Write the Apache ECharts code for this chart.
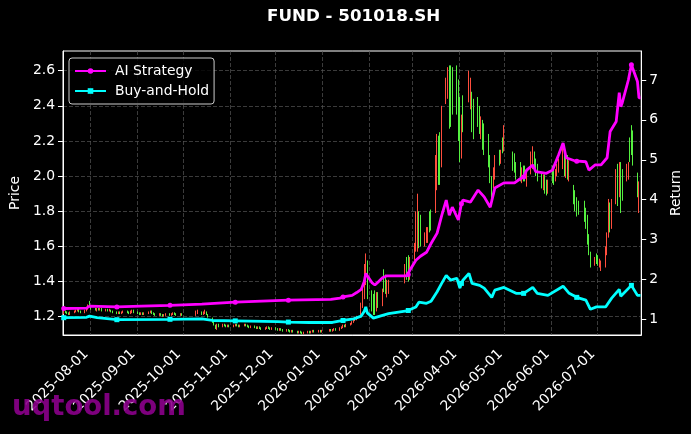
<!DOCTYPE html>
<html>
<head>
<meta charset="utf-8">
<script src="https://cdn.jsdelivr.net/npm/echarts@6/dist/echarts.min.js"></script>
<style>
  html, body { margin: 0; padding: 0; background: #000; }
  #main { width: 691px; height: 434px; }
</style>
</head>
<body>
<div id="main"></div>
<script>
// calendar days shown on the x axis (category labels)
const days = [];
for (let t = Date.UTC(2025, 6, 14); t <= Date.UTC(2026, 6, 29); t += 86400000) {
    days.push(new Date(t).toISOString().slice(0, 10));
}

// [date, open, close, low, high]
const candles = [
    ['2025-07-14',1.22,1.23,1.215,1.235],['2025-07-15',1.23,1.225,1.22,1.235],['2025-07-16',1.225,1.22,1.215,1.23],
    ['2025-07-17',1.22,1.215,1.21,1.225],['2025-07-18',1.215,1.225,1.21,1.23],['2025-07-21',1.225,1.23,1.22,1.235],
    ['2025-07-22',1.23,1.235,1.225,1.24],['2025-07-23',1.235,1.24,1.23,1.245],['2025-07-24',1.24,1.23,1.225,1.245],
    ['2025-07-25',1.23,1.225,1.22,1.235],['2025-07-28',1.225,1.235,1.22,1.24],['2025-07-29',1.235,1.24,1.23,1.25],
    ['2025-07-30',1.245,1.26,1.24,1.27],['2025-07-31',1.28,1.265,1.26,1.29],['2025-08-01',1.26,1.245,1.24,1.265],
    ['2025-08-04',1.245,1.24,1.235,1.25],['2025-08-05',1.235,1.245,1.23,1.25],['2025-08-06',1.245,1.24,1.235,1.25],
    ['2025-08-07',1.24,1.245,1.235,1.25],['2025-08-08',1.245,1.235,1.23,1.25],['2025-08-11',1.235,1.24,1.23,1.245],
    ['2025-08-12',1.24,1.235,1.23,1.245],['2025-08-13',1.235,1.24,1.23,1.245],['2025-08-14',1.24,1.23,1.225,1.24],
    ['2025-08-15',1.23,1.225,1.22,1.235],['2025-08-18',1.225,1.22,1.215,1.23],['2025-08-19',1.22,1.225,1.215,1.23],
    ['2025-08-20',1.225,1.22,1.215,1.23],['2025-08-21',1.22,1.225,1.215,1.23],['2025-08-22',1.225,1.23,1.22,1.235],
    ['2025-08-25',1.23,1.225,1.22,1.235],['2025-08-26',1.225,1.22,1.215,1.23],['2025-08-27',1.22,1.225,1.215,1.235],
    ['2025-08-28',1.225,1.23,1.22,1.24],['2025-08-29',1.235,1.225,1.22,1.24],['2025-09-01',1.225,1.22,1.215,1.23],
    ['2025-09-02',1.22,1.215,1.21,1.225],['2025-09-03',1.215,1.22,1.21,1.225],['2025-09-04',1.22,1.215,1.21,1.225],
    ['2025-09-05',1.215,1.22,1.21,1.225],['2025-09-08',1.22,1.225,1.215,1.23],['2025-09-09',1.225,1.23,1.22,1.235],
    ['2025-09-10',1.23,1.22,1.215,1.235],['2025-09-11',1.22,1.215,1.21,1.225],['2025-09-12',1.215,1.21,1.205,1.22],
    ['2025-09-15',1.21,1.215,1.205,1.22],['2025-09-16',1.215,1.21,1.205,1.22],['2025-09-17',1.21,1.205,1.2,1.215],
    ['2025-09-18',1.205,1.21,1.2,1.215],['2025-09-19',1.21,1.215,1.205,1.22],['2025-09-22',1.215,1.21,1.205,1.22],
    ['2025-09-23',1.21,1.215,1.205,1.22],['2025-09-24',1.215,1.22,1.21,1.225],['2025-09-25',1.22,1.215,1.21,1.225],
    ['2025-09-26',1.215,1.21,1.205,1.22],['2025-09-29',1.21,1.215,1.205,1.22],['2025-09-30',1.215,1.21,1.205,1.22],
    ['2025-10-09',1.21,1.225,1.205,1.235],['2025-10-10',1.22,1.235,1.215,1.24],['2025-10-13',1.225,1.215,1.21,1.23],
    ['2025-10-14',1.215,1.225,1.21,1.23],['2025-10-15',1.22,1.23,1.215,1.24],['2025-10-16',1.225,1.215,1.21,1.23],
    ['2025-10-17',1.21,1.2,1.195,1.215],['2025-10-20',1.19,1.17,1.165,1.195],['2025-10-21',1.17,1.155,1.15,1.175],
    ['2025-10-22',1.15,1.14,1.13,1.155],['2025-10-23',1.135,1.15,1.125,1.16],['2025-10-24',1.15,1.145,1.14,1.16],
    ['2025-10-27',1.145,1.155,1.14,1.16],['2025-10-28',1.155,1.15,1.145,1.16],['2025-10-29',1.15,1.145,1.14,1.155],
    ['2025-10-30',1.145,1.15,1.14,1.155],['2025-10-31',1.15,1.145,1.14,1.155],['2025-11-03',1.145,1.15,1.14,1.155],
    ['2025-11-04',1.15,1.155,1.145,1.16],['2025-11-05',1.155,1.15,1.145,1.16],['2025-11-06',1.15,1.145,1.14,1.155],
    ['2025-11-07',1.145,1.15,1.14,1.155],['2025-11-10',1.15,1.155,1.145,1.16],['2025-11-11',1.155,1.15,1.145,1.16],
    ['2025-11-12',1.15,1.145,1.14,1.155],['2025-11-13',1.145,1.14,1.135,1.15],['2025-11-14',1.14,1.145,1.135,1.15],
    ['2025-11-17',1.145,1.14,1.135,1.15],['2025-11-18',1.14,1.135,1.13,1.145],['2025-11-19',1.135,1.14,1.13,1.145],
    ['2025-11-20',1.14,1.135,1.13,1.145],['2025-11-21',1.135,1.13,1.125,1.14],['2025-11-24',1.13,1.135,1.125,1.14],
    ['2025-11-25',1.135,1.14,1.13,1.145],['2025-11-26',1.14,1.135,1.13,1.145],['2025-11-27',1.135,1.13,1.125,1.14],
    ['2025-11-28',1.13,1.135,1.125,1.14],['2025-12-01',1.135,1.13,1.125,1.14],['2025-12-02',1.13,1.125,1.12,1.135],
    ['2025-12-03',1.125,1.13,1.12,1.135],['2025-12-04',1.13,1.125,1.12,1.135],['2025-12-05',1.125,1.12,1.115,1.13],
    ['2025-12-08',1.12,1.125,1.115,1.13],['2025-12-09',1.125,1.12,1.115,1.13],['2025-12-10',1.12,1.115,1.11,1.125],
    ['2025-12-11',1.115,1.12,1.11,1.125],['2025-12-12',1.12,1.115,1.11,1.125],['2025-12-15',1.115,1.11,1.105,1.12],
    ['2025-12-16',1.11,1.115,1.105,1.12],['2025-12-17',1.115,1.11,1.105,1.12],['2025-12-18',1.11,1.105,1.1,1.115],
    ['2025-12-19',1.105,1.11,1.1,1.115],['2025-12-22',1.11,1.115,1.105,1.12],['2025-12-23',1.115,1.11,1.105,1.12],
    ['2025-12-24',1.11,1.115,1.105,1.12],['2025-12-25',1.115,1.12,1.11,1.125],['2025-12-26',1.12,1.115,1.11,1.125],
    ['2025-12-29',1.115,1.12,1.11,1.125],['2025-12-30',1.12,1.115,1.11,1.125],['2025-12-31',1.115,1.12,1.11,1.125],
    ['2026-01-05',1.12,1.125,1.115,1.13],['2026-01-06',1.125,1.12,1.115,1.13],['2026-01-07',1.12,1.125,1.115,1.13],
    ['2026-01-08',1.125,1.13,1.12,1.135],['2026-01-09',1.13,1.125,1.12,1.135],['2026-01-12',1.125,1.135,1.12,1.14],
    ['2026-01-13',1.135,1.14,1.13,1.145],['2026-01-14',1.14,1.15,1.135,1.155],['2026-01-15',1.15,1.145,1.14,1.155],
    ['2026-01-16',1.145,1.155,1.14,1.16],['2026-01-19',1.155,1.16,1.15,1.165],['2026-01-20',1.16,1.17,1.155,1.175],
    ['2026-01-21',1.17,1.18,1.165,1.185],['2026-01-22',1.18,1.185,1.175,1.19],['2026-01-23',1.185,1.2,1.18,1.205],
    ['2026-01-26',1.21,1.27,1.20,1.28],['2026-01-27',1.27,1.33,1.25,1.38],['2026-01-28',1.32,1.45,1.30,1.50],
    ['2026-01-29',1.42,1.54,1.38,1.56],['2026-01-30',1.50,1.36,1.30,1.52],['2026-02-02',1.33,1.27,1.23,1.35],
    ['2026-02-03',1.30,1.24,1.21,1.33],['2026-02-04',1.34,1.23,1.21,1.35],['2026-02-05',1.24,1.30,1.23,1.34],
    ['2026-02-06',1.33,1.27,1.25,1.34],['2026-02-09',1.27,1.34,1.26,1.36],['2026-02-10',1.45,1.36,1.34,1.47],
    ['2026-02-11',1.42,1.35,1.33,1.44],['2026-02-12',1.32,1.38,1.31,1.41],['2026-02-13',1.34,1.40,1.33,1.41],
    ['2026-02-24',1.40,1.49,1.39,1.50],['2026-02-25',1.50,1.43,1.41,1.54],['2026-02-26',1.52,1.42,1.40,1.55],
    ['2026-02-27',1.42,1.52,1.41,1.54],['2026-03-02',1.53,1.58,1.52,1.62],['2026-03-03',1.58,1.75,1.57,1.80],
    ['2026-03-04',1.70,1.86,1.57,1.90],['2026-03-05',1.78,1.62,1.59,1.80],['2026-03-06',1.72,1.64,1.60,1.78],
    ['2026-03-09',1.62,1.66,1.60,1.68],['2026-03-10',1.63,1.70,1.62,1.71],['2026-03-11',1.66,1.69,1.62,1.71],
    ['2026-03-12',1.78,1.70,1.68,1.80],['2026-03-13',1.80,1.72,1.69,1.81],['2026-03-16',1.80,2.00,1.79,2.12],
    ['2026-03-17',1.95,2.15,1.92,2.24],['2026-03-18',2.20,2.05,1.95,2.23],['2026-03-19',2.20,1.98,1.95,2.25],
    ['2026-03-20',2.06,2.35,2.05,2.40],['2026-03-23',2.42,2.55,2.41,2.56],['2026-03-24',2.45,2.60,2.44,2.62],
    ['2026-03-25',2.62,2.30,2.27,2.63],['2026-03-26',2.60,2.35,2.28,2.63],['2026-03-27',2.55,2.40,2.35,2.62],
    ['2026-03-30',2.62,2.38,2.35,2.63],['2026-03-31',2.50,2.25,2.20,2.55],['2026-04-01',2.44,2.12,2.08,2.45],
    ['2026-04-02',2.12,2.30,2.10,2.35],['2026-04-03',2.44,2.28,2.25,2.46],['2026-04-07',2.44,2.58,2.42,2.60],
    ['2026-04-08',2.40,2.52,2.38,2.56],['2026-04-09',2.46,2.30,2.25,2.48],['2026-04-10',2.42,2.24,2.21,2.44],
    ['2026-04-13',2.42,2.30,2.28,2.45],['2026-04-14',2.36,2.27,2.24,2.40],['2026-04-15',2.22,2.32,2.21,2.34],
    ['2026-04-16',2.30,2.18,2.15,2.32],['2026-04-17',2.28,2.14,2.12,2.30],['2026-04-20',2.20,2.07,2.05,2.24],
    ['2026-04-21',2.10,1.98,1.96,2.12],['2026-04-22',1.99,1.90,1.86,2.00],['2026-04-23',1.94,2.03,1.93,2.05],
    ['2026-04-24',2.00,2.10,1.98,2.12],['2026-04-27',2.14,2.08,2.06,2.15],['2026-04-28',2.08,2.13,2.07,2.15],
    ['2026-04-29',2.20,2.15,2.13,2.22],['2026-04-30',2.15,2.25,2.14,2.29],['2026-05-06',2.13,2.05,2.03,2.14],
    ['2026-05-07',2.12,2.04,2.02,2.13],['2026-05-08',2.06,2.00,1.98,2.08],['2026-05-11',2.06,2.00,1.97,2.08],
    ['2026-05-12',1.98,2.03,1.96,2.05],['2026-05-13',2.05,2.00,1.97,2.06],['2026-05-14',2.04,1.99,1.97,2.06],
    ['2026-05-15',1.96,2.01,1.94,2.03],['2026-05-18',2.02,2.10,2.01,2.14],['2026-05-19',2.06,2.15,2.04,2.17],
    ['2026-05-20',2.12,2.05,2.03,2.14],['2026-05-21',2.08,2.02,2.00,2.10],['2026-05-22',2.05,1.99,1.97,2.07],
    ['2026-05-25',2.00,1.95,1.93,2.02],['2026-05-26',1.94,1.99,1.92,2.01],['2026-05-27',2.00,1.93,1.90,2.01],
    ['2026-05-28',1.96,1.91,1.89,1.98],['2026-05-29',1.91,1.96,1.90,1.98],['2026-06-01',2.04,1.98,1.96,2.06],
    ['2026-06-02',2.03,1.97,1.95,2.05],['2026-06-03',1.98,2.02,1.97,2.04],['2026-06-04',2.02,2.05,2.00,2.07],
    ['2026-06-05',2.04,2.08,2.02,2.10],['2026-06-08',2.06,2.13,2.04,2.16],['2026-06-09',2.14,2.04,2.00,2.16],
    ['2026-06-10',2.02,2.09,1.99,2.12],['2026-06-11',2.10,2.00,1.98,2.12],['2026-06-12',1.98,2.06,1.97,2.09],
    ['2026-06-15',1.94,1.86,1.84,1.95],['2026-06-16',1.90,1.82,1.80,1.92],['2026-06-17',1.86,1.79,1.77,1.88],
    ['2026-06-18',1.84,1.80,1.78,1.86],['2026-06-22',1.84,1.76,1.74,1.86],['2026-06-23',1.80,1.72,1.70,1.82],
    ['2026-06-24',1.76,1.64,1.61,1.78],['2026-06-25',1.66,1.57,1.55,1.67],['2026-06-26',1.56,1.50,1.48,1.57],
    ['2026-06-29',1.50,1.53,1.49,1.54],['2026-06-30',1.55,1.51,1.50,1.56],['2026-07-01',1.54,1.50,1.49,1.55],
    ['2026-07-02',1.49,1.52,1.48,1.53],['2026-07-03',1.47,1.50,1.46,1.52],['2026-07-06',1.49,1.57,1.48,1.60],
    ['2026-07-07',1.56,1.66,1.55,1.68],['2026-07-08',1.66,1.83,1.65,1.87],['2026-07-09',1.84,1.72,1.68,1.85],
    ['2026-07-10',1.72,1.84,1.70,1.87],['2026-07-13',1.86,2.00,1.84,2.04],['2026-07-14',2.05,1.92,1.83,2.07],
    ['2026-07-15',1.90,2.06,1.88,2.08],['2026-07-16',2.07,1.86,1.79,2.08],['2026-07-17',2.02,1.92,1.86,2.04],
    ['2026-07-20',1.98,2.05,1.97,2.07],['2026-07-21',2.00,2.06,1.98,2.08],['2026-07-22',2.20,2.10,2.08,2.22],
    ['2026-07-23',2.27,2.16,2.12,2.29],['2026-07-24',2.24,2.10,2.06,2.26],['2026-07-27',2.00,1.93,1.88,2.02],
    ['2026-07-28',1.84,1.95,1.79,1.97]
];

// cumulative return curves [date, value]
const aiReturn = [
    ['2025-07-14',1.27],['2025-07-29',1.28],['2025-07-31',1.33],['2025-08-18',1.31],['2025-09-03',1.33],
    ['2025-09-22',1.35],['2025-10-13',1.38],['2025-11-04',1.43],['2025-12-09',1.48],['2026-01-06',1.50],
    ['2026-01-12',1.53],['2026-01-14',1.56],['2026-01-20',1.60],['2026-01-23',1.67],['2026-01-26',1.75],
    ['2026-01-28',1.95],['2026-01-29',2.15],['2026-02-02',1.92],['2026-02-04',1.86],['2026-02-06',1.93],
    ['2026-02-09',2.04],['2026-02-12',2.09],['2026-02-25',2.09],['2026-02-26',2.12],['2026-02-27',2.23],
    ['2026-03-03',2.48],['2026-03-06',2.58],['2026-03-10',2.68],['2026-03-13',2.9],['2026-03-17',3.16],
    ['2026-03-20',3.6],['2026-03-23',3.99],['2026-03-25',3.61],['2026-03-27',3.81],['2026-03-31',3.49],
    ['2026-04-02',3.9],['2026-04-03',3.99],['2026-04-08',3.94],['2026-04-13',4.24],['2026-04-17',4.07],
    ['2026-04-21',3.81],['2026-04-24',4.29],['2026-04-30',4.42],['2026-05-07',4.42],['2026-05-11',4.53],
    ['2026-05-13',4.57],['2026-05-15',4.74],['2026-05-19',4.87],['2026-05-21',4.70],['2026-05-28',4.66],
    ['2026-06-01',4.74],['2026-06-05',5.12],['2026-06-08',5.42],['2026-06-10',5.05],['2026-06-16',4.97],
    ['2026-06-17',4.96],['2026-06-23',4.95],['2026-06-25',4.74],['2026-06-29',4.87],['2026-07-03',4.87],
    ['2026-07-07',5.05],['2026-07-09',5.71],['2026-07-13',5.96],['2026-07-15',6.68],['2026-07-16',6.33],
    ['2026-07-17',6.43],['2026-07-21',7.0],['2026-07-23',7.38],['2026-07-27',6.96],['2026-07-28',6.55],
    ['2026-07-29',6.55]
];
const bhReturn = [
    ['2025-07-14',1.04],['2025-07-29',1.05],['2025-07-31',1.08],['2025-08-05',1.04],['2025-08-18',0.99],
    ['2025-09-22',1.00],['2025-10-13',1.01],['2025-10-20',0.97],['2025-11-04',0.96],['2025-12-02',0.94],
    ['2025-12-09',0.93],['2025-12-23',0.92],['2026-01-07',0.92],['2026-01-14',0.97],['2026-01-21',1.01],
    ['2026-01-26',1.08],['2026-01-28',1.20],['2026-01-29',1.31],['2026-01-30',1.16],['2026-02-03',1.03],
    ['2026-02-09',1.10],['2026-02-13',1.14],['2026-02-25',1.21],['2026-02-26',1.22],['2026-03-03',1.31],
    ['2026-03-05',1.43],['2026-03-10',1.40],['2026-03-13',1.45],['2026-03-17',1.69],['2026-03-20',1.90],
    ['2026-03-23',2.10],['2026-03-26',1.98],['2026-03-30',2.03],['2026-04-01',1.78],['2026-04-02',1.90],
    ['2026-04-03',1.98],['2026-04-07',2.15],['2026-04-09',1.90],['2026-04-14',1.85],['2026-04-17',1.78],
    ['2026-04-22',1.55],['2026-04-24',1.73],['2026-04-30',1.80],['2026-05-08',1.65],['2026-05-13',1.65],
    ['2026-05-19',1.80],['2026-05-22',1.65],['2026-05-29',1.60],['2026-06-08',1.83],['2026-06-12',1.65],
    ['2026-06-17',1.55],['2026-06-23',1.48],['2026-06-26',1.25],['2026-06-30',1.31],['2026-07-06',1.31],
    ['2026-07-10',1.53],['2026-07-15',1.75],['2026-07-16',1.58],['2026-07-23',1.85],['2026-07-27',1.60],
    ['2026-07-29',1.60]
];
// dates where the line markers are drawn
const markerDates = ['2025-07-14','2025-08-18','2025-09-22','2025-11-04','2025-12-09','2026-01-14',
    '2026-02-26','2026-04-02','2026-05-13','2026-06-17','2026-07-23'];

const priceTicks = [1.2, 1.4, 1.6, 1.8, 2.0, 2.2, 2.4, 2.6];
const returnTicks = [1, 2, 3, 4, 5, 6, 7];

const FONT = 'DejaVu Sans';
const isMonthStart = (i, v) => v.slice(8) === '01';
const markSize = (v, p) => markerDates.includes(Array.isArray(v) ? v[0] : p.name) ? 5 : 0;

const myChart = echarts.init(document.getElementById('main'));

option = {
    backgroundColor: '#000',
    animation: false,
    title: {
        text: 'FUND - 501018.SH',
        left: 267,
        top: 8,
        padding: 0,
        textStyle: { color: '#fff', fontFamily: FONT, fontWeight: 'bold', fontSize: 16.7 }
    },
    legend: {
        data: ['AI Strategy', 'Buy-and-Hold'],
        orient: 'vertical',
        left: 69,
        top: 58,
        padding: [5, 5, 5, 5],
        itemWidth: 31,
        itemHeight: 7,
        itemGap: 4,
        backgroundColor: 'rgba(0,0,0,0.8)',
        borderColor: '#cccccc',
        borderWidth: 1,
        borderRadius: 3,
        textStyle: { color: '#fff', fontFamily: FONT, fontSize: 13.9, lineHeight: 16, padding: [0, 0, 0, 4] }
    },
    grid: {
        left: 62, right: 48, top: 51, bottom: 99,
        show: true, borderColor: '#fff', borderWidth: 1, backgroundColor: 'transparent'
    },
    xAxis: {
        type: 'category',
        data: days,
        boundaryGap: true,
        axisLine: { lineStyle: { color: '#fff', width: 1 } },
        axisTick: { interval: isMonthStart, alignWithLabel: true, length: 5, lineStyle: { color: '#fff' } },
        axisLabel: {
            interval: isMonthStart, rotate: 45, margin: 12, padding: [0, 7, 0, 0],
            color: '#fff', fontFamily: FONT, fontSize: 13.9
        },
        splitLine: { show: true, interval: isMonthStart, lineStyle: { color: '#555', type: [4, 2], width: 0.7 } }
    },
    yAxis: [
        {
            type: 'value',
            name: 'Price',
            nameLocation: 'middle',
            nameGap: 38,
            nameTextStyle: { color: '#fff', fontFamily: FONT, fontSize: 13.9 },
            min: 1.096,
            max: 2.712,
            axisLine: { show: true, lineStyle: { color: '#fff', width: 1 } },
            axisTick: { show: true, length: 5, customValues: priceTicks, lineStyle: { color: '#fff' } },
            axisLabel: {
                customValues: priceTicks, margin: 8, color: '#fff', fontFamily: FONT, fontSize: 13.9,
                formatter: v => v.toFixed(1)
            },
            splitLine: { show: true, lineStyle: { color: '#555', type: [4, 2], width: 0.7 } }
        },
        {
            type: 'value',
            name: 'Return',
            nameLocation: 'middle',
            nameGap: 25,
            nameTextStyle: { color: '#fff', fontFamily: FONT, fontSize: 13.9 },
            min: 0.606,
            max: 7.727,
            axisLine: { show: true, lineStyle: { color: '#fff', width: 1 } },
            axisTick: { show: true, length: 5, customValues: returnTicks, lineStyle: { color: '#fff' } },
            axisLabel: { customValues: returnTicks, margin: 8, color: '#fff', fontFamily: FONT, fontSize: 13.9 },
            splitLine: { show: false }
        }
    ],
    series: [
        {
            type: 'candlestick',
            data: candles,
            encode: { x: 0, y: [1, 2, 3, 4] },
            barWidth: 1,
            itemStyle: {
                color: '#ff4d3d', color0: '#55f040',
                borderColor: '#ff4d3d', borderColor0: '#55f040', borderWidth: 1
            }
        },
        {
            name: 'AI Strategy',
            type: 'line',
            yAxisIndex: 1,
            data: aiReturn,
            symbol: 'circle',
            symbolSize: markSize,
            showAllSymbol: true,
            lineStyle: { color: '#ff00ff', width: 2.8 },
            itemStyle: { color: '#ff00ff' }
        },
        {
            name: 'Buy-and-Hold',
            type: 'line',
            yAxisIndex: 1,
            data: bhReturn,
            symbol: 'rect',
            symbolSize: markSize,
            showAllSymbol: true,
            lineStyle: { color: '#00ffff', width: 2.8 },
            itemStyle: { color: '#00ffff' }
        }
    ],
    graphic: [
        {
            type: 'text',
            left: 12,
            top: 394,
            z: 100,
            style: {
                text: 'uqtool.com',
                fill: 'rgba(139,0,139,0.9)',
                font: 'bold 27.5px "DejaVu Sans"'
            }
        }
    ]
};

myChart.setOption(option);
</script>
</body>
</html>
